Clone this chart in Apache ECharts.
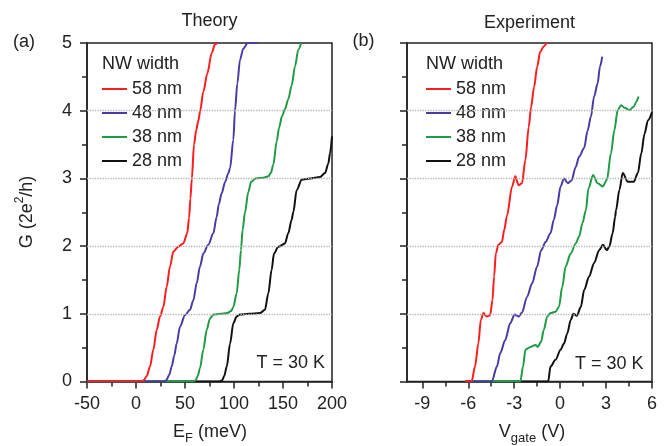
<!DOCTYPE html>
<html><head><meta charset="utf-8">
<script src="https://cdn.jsdelivr.net/npm/echarts@6/dist/echarts.min.js"></script>
<style>html,body{margin:0;padding:0;background:#fff}#c{width:669px;height:446px}</style>
</head><body><div id="c"></div>
<script>
const widths = ['58 nm', '48 nm', '38 nm', '28 nm'];
const colors = ['#ff1c1c', '#4a3aa6', '#1f9a45', '#111111'];
const theoryXTicks = [-50, 0, 50, 100, 150, 200];
const gateXTicks = [-9, -6, -3, 0, 3, 6];
const gateMinorTicks = [-7.5, -4.5, -1.5, 1.5, 4.5];
const gridValues = [1, 2, 3, 4];

// Theory: [E_F (meV), G (2e^2/h)]
const theory58 = [[-50,0],[5,0],[8,0.02],[11,0.08],[14.3,0.22],[17.7,0.47],[21.1,0.76],[24.5,0.96],[27.9,1.1],[31.3,1.4],[34.7,1.7],[38.1,1.92],[43.2,1.99],[48.3,2.04],[52.3,2.19],[54.2,2.42],[55.5,2.7],[57,3.0],[59.2,3.5],[61.5,3.72],[63.6,3.85],[65.5,4.0],[68.7,4.28],[72.8,4.55],[77.2,4.85],[80.6,4.98],[83,5.0]];
const theory48 = [[-50,0],[28,0],[31,0.02],[34,0.1],[36.4,0.22],[39,0.38],[41.5,0.56],[44.9,0.81],[50,0.98],[55.1,1.06],[58.5,1.2],[61.9,1.45],[65.3,1.7],[68.7,1.89],[73.8,2.02],[78.9,2.19],[82.3,2.43],[84.5,2.62],[87.4,2.78],[91,2.95],[94,3.07],[96,3.15],[99.3,3.57],[101,4.0],[103.4,4.4],[106.1,4.75],[109.5,4.92],[114,5.0],[124,5.0]];
const theory38 = [[-50,0],[58,0],[61,0.02],[63,0.08],[65.3,0.2],[68.7,0.47],[72.1,0.76],[75.5,0.93],[79,0.99],[86,1.0],[93,1.01],[97,1.04],[99.3,1.1],[102.7,1.3],[105.4,1.65],[107.1,1.94],[108.8,2.24],[111.2,2.5],[114.6,2.8],[117.5,2.95],[122,3.0],[130,3.01],[135,3.03],[137.5,3.08],[140.1,3.2],[143.6,3.55],[146,3.75],[149,3.92],[152,4.02],[155.4,4.17],[158.8,4.37],[162.2,4.65],[165.6,4.9],[168.5,5.0]];
const theory28 = [[-50,0],[85,0],[88,0.02],[90,0.08],[92.6,0.22],[96,0.56],[99.3,0.86],[102.7,0.96],[106,0.99],[115,1.0],[126.5,1.01],[131.6,1.06],[135,1.3],[138.4,1.65],[140.8,1.89],[145.2,1.99],[152,2.04],[155.4,2.19],[158.8,2.39],[160.5,2.5],[164,2.83],[169.1,2.98],[177.6,3.0],[187.8,3.02],[192.9,3.08],[196.3,3.22],[198,3.37],[200,3.62]];

// Experiment: [V_gate (V), G (2e^2/h)]
const expt58 = [[-6.2,0],[-5.78,0],[-5.56,0.22],[-5.34,0.56],[-5.18,0.91],[-5.01,1.01],[-4.79,0.96],[-4.57,0.98],[-4.42,1.2],[-4.31,1.55],[-4.2,1.89],[-4.03,2.02],[-3.8,2.06],[-3.65,2.24],[-3.47,2.45],[-3.14,2.88],[-2.93,3.03],[-2.71,2.9],[-2.49,2.93],[-2.27,3.27],[-2.05,3.76],[-1.9,4.05],[-1.7,4.35],[-1.5,4.65],[-1.3,4.87],[-1.07,4.95],[-0.85,5.02]];
const expt48 = [[-6.2,0],[-4.46,0],[-4.13,0.22],[-3.91,0.42],[-3.59,0.61],[-3.26,0.86],[-2.97,0.99],[-2.71,0.96],[-2.49,1.02],[-2.16,1.25],[-1.83,1.45],[-1.5,1.7],[-1.24,1.94],[-0.95,2.06],[-0.63,2.19],[-0.41,2.39],[-0.2,2.6],[0.03,2.88],[0.25,3.0],[0.51,2.93],[0.74,2.97],[1.02,3.17],[1.24,3.32],[1.57,3.45],[1.79,3.7],[2.01,3.91],[2.22,4.21],[2.45,4.4],[2.6,4.65],[2.75,4.8]];
const expt38 = [[-6.2,0],[-2.6,0],[-2.42,0.22],[-2.27,0.47],[-1.94,0.51],[-1.61,0.54],[-1.46,0.51],[-1.24,0.59],[-1.07,0.76],[-0.84,0.96],[-0.63,1.01],[-0.3,1.03],[-0.08,1.1],[0.14,1.4],[0.36,1.7],[0.69,1.89],[1.02,2.04],[1.24,2.14],[1.46,2.34],[1.68,2.53],[1.85,2.85],[2.15,3.05],[2.45,2.93],[2.78,2.88],[3.06,2.98],[3.32,3.37],[3.54,3.71],[3.76,4.01],[3.98,4.08],[4.24,4.04],[4.53,4.01],[4.81,4.06],[4.97,4.13],[5.12,4.21]];
const expt28 = [[-6.2,0],[-0.78,0],[-0.63,0.22],[-0.3,0.32],[0.03,0.47],[0.25,0.56],[0.47,0.71],[0.69,0.91],[0.87,1.0],[1.09,0.97],[1.35,1.1],[1.57,1.35],[1.89,1.55],[2.22,1.75],[2.55,1.94],[2.8,2.02],[3.05,1.94],[3.21,1.99],[3.43,2.19],[3.59,2.43],[3.65,2.53],[3.87,2.83],[4.09,3.08],[4.42,2.95],[4.81,2.95],[5.08,3.08],[5.3,3.37],[5.51,3.66],[5.74,3.86],[6.0,3.98]];

const FONT = 'Liberation Sans, Arial, sans-serif';
const TXT = '#222';
const theorySets = [theory58, theory48, theory38, theory28];
const exptSets = [expt58, expt48, expt38, expt28];

function mkSeries(sets, xi, yi) {
  const out = [];
  for (let i = sets.length - 1; i >= 0; i--) {
    const s = {
      name: widths[i], type: 'line', xAxisIndex: xi, yAxisIndex: yi,
      data: sets[i], showSymbol: false, symbol: 'none',
      smooth: 0.3, smoothMonotone: 'x',
      lineStyle: { color: colors[i], width: 2 }, itemStyle: { color: colors[i] },
      animation: false
    };
    if (i === sets.length - 1) {
      s.markLine = {
        silent: true, symbol: ['none', 'none'], label: { show: false }, animation: false,
        lineStyle: { color: '#b3b3b3', type: 'dotted', width: 1.3 },
        data: gridValues.map(v => ({ yAxis: v }))
      };
    }
    out.push(s);
  }
  return out;
}

const axisLineStyle = { color: TXT, width: 1.5 };
function yAx(gi, showLabel) {
  return {
    type: 'value', gridIndex: gi, min: 0, max: 5, interval: 1,
    axisLine: { show: true, onZero: false, lineStyle: axisLineStyle },
    axisTick: { show: true, inside: false, length: 7, lineStyle: axisLineStyle },
    minorTick: { show: true, splitNumber: 2, length: 5, lineStyle: axisLineStyle },
    splitLine: { show: false },
    axisLabel: { show: showLabel, fontSize: 18, fontFamily: FONT, color: TXT, margin: 15 }
  };
}

const legendCommon = {
  orient: 'vertical', data: widths, icon: 'rect', itemWidth: 25, itemHeight: 2,
  itemGap: 0, padding: 0, selectedMode: false,
  textStyle: { fontSize: 18, fontFamily: FONT, color: TXT, lineHeight: 24 }
};

function t(x, y, text, align, extra) {
  return Object.assign({
    type: 'text', x: x, y: y, silent: true,
    style: { text: text, font: '18px ' + FONT, fill: TXT, align: align, textAlign: align,
             verticalAlign: 'middle', textVerticalAlign: 'middle' }
  }, extra || {});
}

const chart = echarts.init(document.getElementById('c'), null, { renderer: 'canvas' });
chart.setOption({
  backgroundColor: '#fff',
  animation: false,
  grid: [
    { left: 87, top: 43, width: 245, height: 338.5, show: true, borderColor: TXT, borderWidth: 1.5, backgroundColor: 'rgba(0,0,0,0)' },
    { left: 407, top: 43, width: 245, height: 338.5, show: true, borderColor: TXT, borderWidth: 1.5, backgroundColor: 'rgba(0,0,0,0)' }
  ],
  legend: [
    Object.assign({ left: 102, top: 77 }, legendCommon),
    Object.assign({ left: 426, top: 77 }, legendCommon)
  ],
  xAxis: [
    {
      type: 'value', gridIndex: 0, min: -50, max: 200, interval: 50,
      axisLine: { show: true, onZero: false, lineStyle: axisLineStyle },
      axisTick: { show: true, inside: false, length: 7, lineStyle: axisLineStyle },
      minorTick: { show: true, splitNumber: 2, length: 5, lineStyle: axisLineStyle },
      splitLine: { show: false },
      axisLabel: { fontSize: 18, fontFamily: FONT, color: TXT, margin: 14, customValues: theoryXTicks }
    },
    {
      type: 'value', gridIndex: 1, min: -10, max: 6,
      axisLine: { show: true, onZero: false, lineStyle: axisLineStyle },
      axisTick: { show: true, inside: false, length: 7, lineStyle: axisLineStyle, customValues: gateXTicks },
      splitLine: { show: false },
      axisLabel: { fontSize: 18, fontFamily: FONT, color: TXT, margin: 14, customValues: gateXTicks }
    },
    {
      type: 'value', gridIndex: 1, min: -10, max: 6, position: 'bottom',
      axisLine: { show: false, onZero: false },
      axisTick: { show: true, inside: false, length: 5, lineStyle: axisLineStyle, customValues: gateMinorTicks },
      splitLine: { show: false },
      axisLabel: { show: false }
    }
  ],
  yAxis: [yAx(0, true), yAx(1, false)],
  series: mkSeries(theorySets, 0, 0).concat(mkSeries(exptSets, 1, 1)),
  graphic: [
    t(209.5, 21, 'Theory', 'center'),
    t(529.5, 23, 'Experiment', 'center'),
    t(13, 42, '(a)', 'left'),
    t(352.5, 41, '(b)', 'left'),
    t(102, 64, 'NW width', 'left'),
    t(426, 64, 'NW width', 'left'),
    t(325, 363.5, 'T = 30 K', 'right'),
    t(643.5, 364, 'T = 30 K', 'right'),
    {
      type: 'text', x: 27, y: 212, rotation: Math.PI / 2, silent: true,
      style: {
        text: '{a|G (2e}{s|2}{a|/h)}', fill: TXT, align: 'center', textAlign: 'center',
        verticalAlign: 'middle', textVerticalAlign: 'middle',
        rich: {
          a: { fontSize: 18, fontFamily: FONT, color: TXT, lineHeight: 26 },
          s: { fontSize: 12, fontFamily: FONT, color: TXT, lineHeight: 12, verticalAlign: 'top' }
        }
      }
    },
    {
      type: 'text', x: 210, y: 432, silent: true,
      style: {
        text: '{a|E}{s|F}{a| (meV)}', fill: TXT, align: 'center', textAlign: 'center',
        verticalAlign: 'middle', textVerticalAlign: 'middle',
        rich: {
          a: { fontSize: 18, fontFamily: FONT, color: TXT, lineHeight: 26 },
          s: { fontSize: 13, fontFamily: FONT, color: TXT, lineHeight: 13, verticalAlign: 'bottom' }
        }
      }
    },
    {
      type: 'text', x: 532, y: 432, silent: true,
      style: {
        text: '{a|V}{s|gate}{a| (V)}', fill: TXT, align: 'center', textAlign: 'center',
        verticalAlign: 'middle', textVerticalAlign: 'middle',
        rich: {
          a: { fontSize: 18, fontFamily: FONT, color: TXT, lineHeight: 26 },
          s: { fontSize: 13, fontFamily: FONT, color: TXT, lineHeight: 13, verticalAlign: 'bottom' }
        }
      }
    }
  ]
});
</script></body></html>
